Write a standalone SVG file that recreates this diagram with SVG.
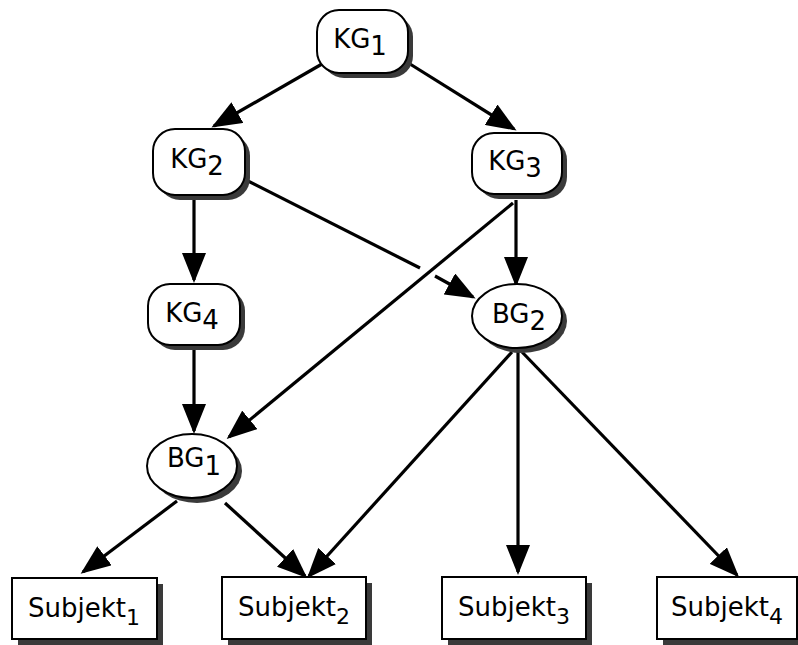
<svg xmlns="http://www.w3.org/2000/svg" width="798" height="645" viewBox="0 0 798 645">
  <defs>
    <marker id="arrow" markerUnits="userSpaceOnUse" markerWidth="30" markerHeight="24" refX="27" refY="12" orient="auto">
      <path d="M0,0 L30,12 L0,24 Z" fill="#000"/>
    </marker>
  </defs>
  <style>
    .shadow { fill: #3a3a3a; }
    .box { fill: #fff; stroke: #000; stroke-width: 2; }
    .label { font-family: "DejaVu Sans", "Liberation Sans", sans-serif; font-size: 26px; fill: #000; text-anchor: middle; }
    .sub { font-size: 26px; }
    .slabel { font-family: "DejaVu Sans", "Liberation Sans", sans-serif; font-size: 26px; fill: #000; text-anchor: middle; }
    .ssub { font-size: 22px; }
    .edge { fill: none; stroke: #000; stroke-width: 3.2; marker-end: url(#arrow); }
    .edge-plain { fill: none; stroke: #000; stroke-width: 3.2; }
  </style>
  <rect width="798" height="645" fill="#fff"/>

  <!-- connectors -->
  <g id="connectors">
    <line class="edge" x1="322" y1="64" x2="214" y2="126"/>
    <line class="edge" x1="410" y1="64" x2="514" y2="129"/>
    <line class="edge" x1="194" y1="198" x2="194" y2="280"/>
    <line class="edge-plain" x1="246" y1="180" x2="420" y2="268"/>
    <line class="edge" x1="435" y1="276" x2="473" y2="297"/>
    <line class="edge" x1="516" y1="200" x2="516" y2="284"/>
    <line class="edge" x1="513" y1="203" x2="229" y2="437"/>
    <line class="edge" x1="194" y1="350" x2="194" y2="431"/>
    <line class="edge" x1="177" y1="501" x2="83" y2="572"/>
    <line class="edge" x1="225" y1="503" x2="305" y2="576"/>
    <line class="edge" x1="512" y1="352" x2="309" y2="576"/>
    <line class="edge" x1="518" y1="352" x2="518" y2="572"/>
    <line class="edge" x1="522" y1="352" x2="737" y2="575"/>
  </g>

  <!-- KG1 -->
  <g id="KG1">
    <rect class="shadow" x="322" y="15" width="91" height="63" rx="22"/>
    <rect class="box" x="317" y="10" width="91" height="63" rx="22"/>
    <text class="label" x="360" y="48">KG<tspan class="sub" dy="7">1</tspan></text>
  </g>

  <!-- KG2 -->
  <g id="KG2">
    <rect class="shadow" x="158" y="134" width="92" height="66" rx="22"/>
    <rect class="box" x="153" y="129" width="92" height="66" rx="22"/>
    <text class="label" x="197" y="168">KG<tspan class="sub" dy="7">2</tspan></text>
  </g>

  <!-- KG3 -->
  <g id="KG3">
    <rect class="shadow" x="477" y="138" width="90" height="61" rx="22"/>
    <rect class="box" x="472" y="133" width="90" height="61" rx="22"/>
    <text class="label" x="515" y="170">KG<tspan class="sub" dy="7">3</tspan></text>
  </g>

  <!-- KG4 -->
  <g id="KG4">
    <rect class="shadow" x="153" y="289" width="92" height="61" rx="22"/>
    <rect class="box" x="148" y="284" width="92" height="61" rx="22"/>
    <text class="label" x="192" y="322">KG<tspan class="sub" dy="7">4</tspan></text>
  </g>

  <!-- BG2 -->
  <g id="BG2">
    <ellipse class="shadow" cx="522" cy="321" rx="45" ry="32"/>
    <ellipse class="box" cx="517" cy="316" rx="45" ry="32"/>
    <text class="label" x="519" y="323">BG<tspan class="sub" dy="7">2</tspan></text>
  </g>

  <!-- BG1 -->
  <g id="BG1">
    <ellipse class="shadow" cx="197" cy="471" rx="45" ry="32"/>
    <ellipse class="box" cx="192" cy="466" rx="45" ry="32"/>
    <text class="label" x="194" y="467">BG<tspan class="sub" dy="8">1</tspan></text>
  </g>

  <!-- Subjekt1 -->
  <g id="Subjekt1">
    <rect x="18" y="584" width="145" height="61" fill="#3a3a3a"/>
    <rect class="box" x="12" y="578" width="145" height="61"/>
    <text class="slabel" x="84" y="617">Subjekt<tspan class="ssub" dy="8">1</tspan></text>
  </g>

  <!-- Subjekt2 -->
  <g id="Subjekt2">
    <rect x="228" y="583" width="144" height="62" fill="#3a3a3a"/>
    <rect class="box" x="222" y="577" width="144" height="62"/>
    <text class="slabel" x="294" y="616">Subjekt<tspan class="ssub" dy="8">2</tspan></text>
  </g>

  <!-- Subjekt3 -->
  <g id="Subjekt3">
    <rect x="448" y="583" width="144" height="62" fill="#3a3a3a"/>
    <rect class="box" x="442" y="577" width="144" height="62"/>
    <text class="slabel" x="514" y="616">Subjekt<tspan class="ssub" dy="8">3</tspan></text>
  </g>

  <!-- Subjekt4 -->
  <g id="Subjekt4">
    <rect x="663" y="583" width="144" height="62" fill="#3a3a3a"/>
    <rect class="box" x="657" y="577" width="140" height="62"/>
    <text class="slabel" x="727" y="616">Subjekt<tspan class="ssub" dy="8">4</tspan></text>
  </g>
</svg>
